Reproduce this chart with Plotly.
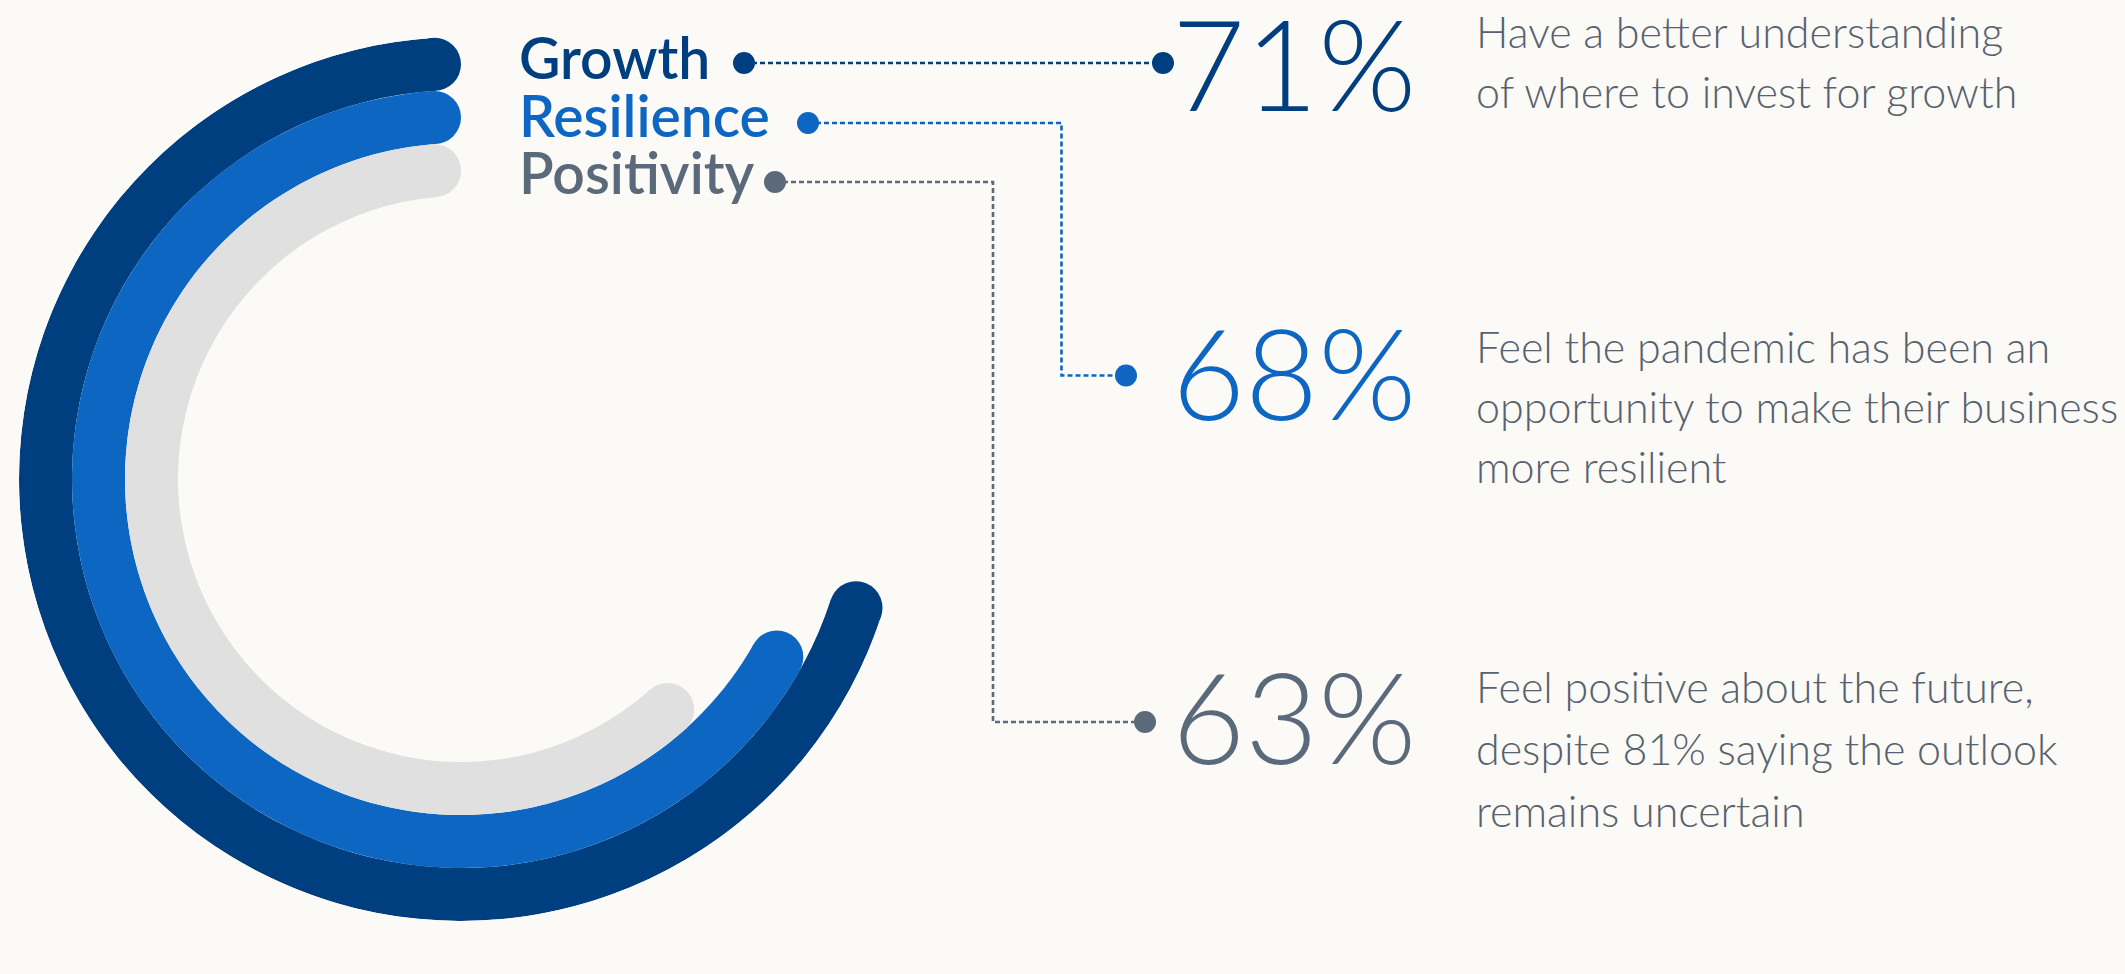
import math
import plotly.graph_objects as go

W, H = 2125, 974

# ---- data ----
labels = ["Growth", "Resilience", "Positivity"]
values = [71, 68, 63]
value_text = ["71%", "68%", "63%"]
desc_growth = ["Have a better understanding", "of where to invest for growth"]
desc_resilience = ["Feel the pandemic has been an", "opportunity to make their business", "more resilient"]
desc_positivity = ["Feel positive about the future,", "despite 81% saying the outlook", "remains uncertain"]
descriptions = [desc_growth, desc_resilience, desc_positivity]

# ---- style ----
bg = "#FCFAF6"
ring_colors = ["#003F7F", "#0D66C2", "#E0E0E0"]
text_colors = ["#003F7F", "#0D66C2", "#5B6A7A"]
desc_color = "#56626F"
ring_outer = [442, 389, 336]
ring_w = 53
R_MAX = 442

def px(x):
    return x / W

def py(y):
    return 1 - y / H

fig = go.Figure()

for i, v in enumerate(values):
    r_in = ring_outer[i] - ring_w
    r_mid = ring_outer[i] - ring_w / 2
    cap_deg = math.degrees((ring_w / 2) / r_mid)
    sweep = v / 100 * 360
    fig.add_trace(go.Barpolar(
        r=[ring_w], base=[r_in], theta=[sweep / 2], width=[sweep - 2 * cap_deg],
        marker=dict(color=ring_colors[i], line=dict(width=0)),
        hoverinfo="skip", showlegend=False,
    ))
    fig.add_trace(go.Scatterpolar(
        r=[r_mid, r_mid], theta=[cap_deg, sweep - cap_deg], mode="markers",
        marker=dict(size=ring_w, color=ring_colors[i], line=dict(width=0)),
        hoverinfo="skip", showlegend=False,
    ))

# ---- layout positions (pixels) ----
label_x = 517
label_baseline = [79, 137, 194]
label_size = 57
num_right = 1418
num_center = [66.5, 375.5, 719]
num_size = 126
desc_x = 1474
desc_baselines = [[48, 108], [363, 423, 483], [703, 765, 827]]
desc_size = 43
ASC = 0.387  # baseline offset from box middle (em)

annotations = []
for i, lab in enumerate(labels):
    annotations.append(dict(
        text=lab, x=px(label_x), y=py(label_baseline[i] - ASC * label_size),
        xref="paper", yref="paper", xanchor="left", yanchor="middle", showarrow=False,
        font=dict(family="Lato", size=label_size, color=text_colors[i], weight=600),
    ))
    base = num_center[i] + 0.358 * num_size
    annotations.append(dict(
        text=value_text[i], x=px(num_right), y=py(base - ASC * num_size),
        xref="paper", yref="paper", xanchor="right", yanchor="middle", showarrow=False,
        font=dict(family="Lato", size=num_size, color=text_colors[i], weight=300),
    ))
    for line, bl in zip(descriptions[i], desc_baselines[i]):
        annotations.append(dict(
            text=line, x=px(desc_x), y=py(bl - ASC * desc_size),
            xref="paper", yref="paper", xanchor="left", yanchor="middle", showarrow=False,
            font=dict(family="Lato", size=desc_size, color=desc_color, weight=300),
        ))

# connectors (pixel paths) and dots
connectors = [
    [(744, 63), (1163, 63)],
    [(808, 123), (1061.5, 123), (1061.5, 375.5), (1126, 375.5)],
    [(775, 182), (993, 182), (993, 722), (1145, 722)],
]
shapes = []
for i, pts in enumerate(connectors):
    path = "M " + " L ".join(f"{px(x):.6f},{py(y):.6f}" for x, y in pts)
    shapes.append(dict(type="path", path=path, xref="paper", yref="paper",
                       line=dict(color=text_colors[i], width=2.6, dash="5px,3px")))
    for (cx, cy) in (pts[0], pts[-1]):
        shapes.append(dict(type="circle", xref="paper", yref="paper",
                           xsizemode="pixel", ysizemode="pixel",
                           xanchor=px(cx), yanchor=py(cy), x0=-11, x1=11, y0=-11, y1=11,
                           fillcolor=text_colors[i], line=dict(width=0)))

fig.update_layout(
    width=W, height=H,
    margin=dict(l=0, r=0, t=0, b=0),
    paper_bgcolor=bg, plot_bgcolor=bg,
    polar=dict(
        domain=dict(x=[px(19), px(19 + 2 * R_MAX)], y=[py(37 + 2 * R_MAX), py(37)]),
        bgcolor="rgba(0,0,0,0)",
        radialaxis=dict(visible=False, range=[0, R_MAX]),
        angularaxis=dict(visible=False, rotation=90, direction="counterclockwise"),
        hole=0,
    ),
    annotations=annotations,
    shapes=shapes,
    showlegend=False,
)

fig.write_html("out.html")
